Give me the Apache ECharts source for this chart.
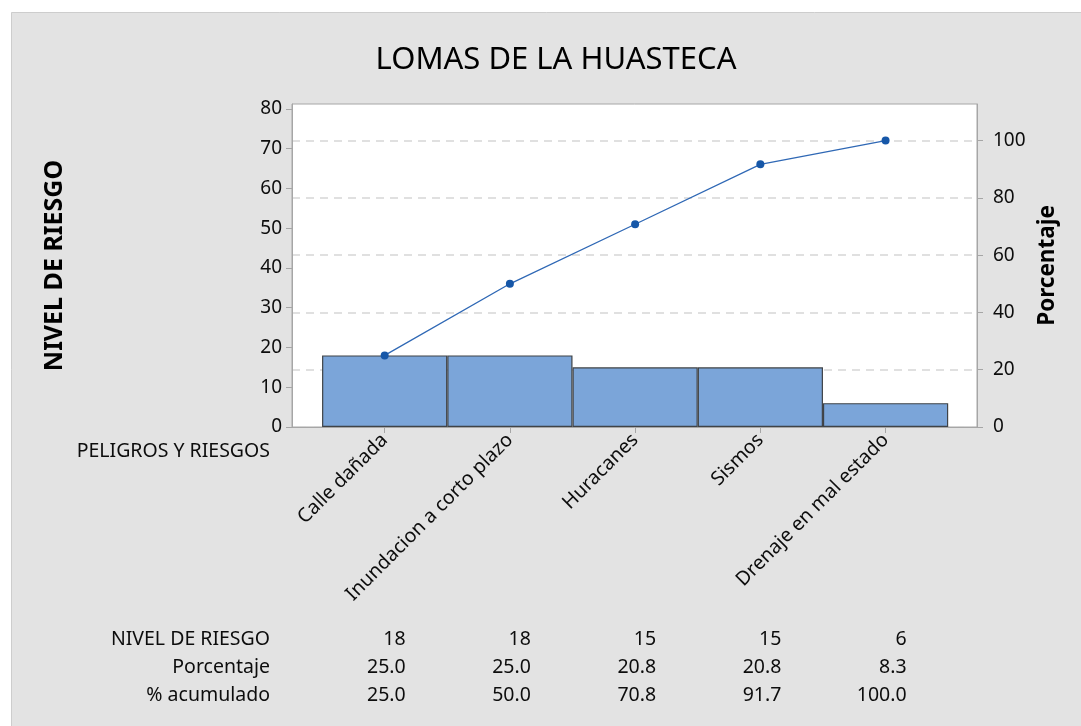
<!DOCTYPE html>
<html>
<head>
<meta charset="utf-8">
<script src="https://cdn.jsdelivr.net/npm/echarts@6/dist/echarts.min.js"></script>
<style>
  html, body { margin: 0; padding: 0; background: #ffffff; }
  #chart { width: 1081px; height: 726px; }
</style>
</head>
<body>
<div id="chart"></div>
<script>
// Pareto data: hazards ordered by risk level
const categories = ['Calle dañada', 'Inundacion a corto plazo', 'Huracanes', 'Sismos', 'Drenaje en mal estado'];
const riskLevels = [18, 18, 15, 15, 6];
const percentages = [25.0, 25.0, 20.8, 20.8, 8.3];
const cumulativePct = [25.0, 50.0, 70.8, 91.7, 100.0];
const leftTicks = [0, 10, 20, 30, 40, 50, 60, 70, 80];
const rightTicks = [0, 20, 40, 60, 80, 100];

const FONT = "'Noto Sans', 'DejaVu Sans', sans-serif";
const TEXT = '#0d0d0d';
const AXIS_GRAY = '#a6a6a6';

const total = riskLevels.reduce((a, b) => a + b, 0);
const leftMax = 81.2;                       // count axis top
const rightMax = leftMax / total * 100;     // percent axis aligned so 100% == total
const xMin = -0.74, xMax = 4.73;            // padding either side of the bars

const grid = { left: 292, top: 104, width: 685, height: 323 };
const barWidth = grid.width / (xMax - xMin);

const chart = echarts.init(document.getElementById('chart'), null, { renderer: 'canvas' });

const option = {
  backgroundColor: '#ffffff',
  animation: false,
  textStyle: { fontFamily: FONT },
  title: {
    text: 'LOMAS DE LA HUASTECA',
    left: 551, textAlign: 'center',
    top: 40,
    textStyle: { fontFamily: FONT, fontSize: 31, fontWeight: 'normal', color: '#000' }
  },
  grid: Object.assign({
    show: true, backgroundColor: '#ffffff', borderColor: AXIS_GRAY, borderWidth: 1, containLabel: false
  }, grid),
  xAxis: {
    type: 'value',
    min: xMin, max: xMax,
    axisLine: { show: true, onZero: false, lineStyle: { color: AXIS_GRAY, width: 1 } },
    axisTick: { show: true, customValues: categories.map((_, i) => i), length: 6, lineStyle: { color: AXIS_GRAY } },
    splitLine: { show: false },
    axisLabel: {
      customValues: categories.map((_, i) => i),
      formatter: v => categories[Math.round(v)],
      rotate: 45, fontSize: 19.5, color: TEXT, fontFamily: FONT, margin: 10
    }
  },
  yAxis: [
    {
      type: 'value', position: 'left',
      min: 0, max: leftMax,
      name: 'NIVEL DE RIESGO', nameLocation: 'middle', nameRotate: 90, nameGap: 225,
      nameTextStyle: { fontFamily: FONT, fontSize: 25, fontWeight: 'bold', color: '#000' },
      axisLine: { show: true, onZero: false, lineStyle: { color: AXIS_GRAY } },
      axisTick: { show: true, customValues: leftTicks, length: 6, lineStyle: { color: AXIS_GRAY } },
      axisLabel: { customValues: leftTicks, fontSize: 19, color: TEXT, fontFamily: FONT, margin: 10 },
      splitLine: { show: false }
    },
    {
      type: 'value', position: 'right',
      min: 0, max: rightMax,
      name: 'Porcentaje', nameLocation: 'middle', nameRotate: 90, nameGap: 52,
      nameTextStyle: { fontFamily: FONT, fontSize: 22.5, fontWeight: 'bold', color: '#000' },
      axisLine: { show: true, onZero: false, lineStyle: { color: AXIS_GRAY } },
      axisTick: { show: true, customValues: rightTicks, length: 6, lineStyle: { color: AXIS_GRAY } },
      axisLabel: { customValues: rightTicks, fontSize: 19, color: TEXT, fontFamily: FONT, margin: 16 },
      splitLine: { show: true, lineStyle: { color: '#d6d6d6', type: [8, 6], width: 1.5 } }
    }
  ],
  series: [
    {
      type: 'bar',
      yAxisIndex: 0,
      barWidth: barWidth,
      data: riskLevels.map((v, i) => [i, v]),
      itemStyle: { color: '#7ba5d9', borderColor: '#3f4347', borderWidth: 1.2 },
      z: 2
    },
    {
      type: 'line',
      yAxisIndex: 1,
      data: cumulativePct.map((v, i) => [i, v]),
      symbol: 'circle', symbolSize: 8,
      lineStyle: { color: '#2f68b5', width: 1.3 },
      itemStyle: { color: '#1657a8' },
      z: 3
    }
  ]
};
chart.setOption(option);

// Outer panel, bottom-axis caption and summary table drawn around the plot
const rowLabels = ['NIVEL DE RIESGO', 'Porcentaje', '% acumulado'];
const rowValues = [
  riskLevels.map(v => String(v)),
  percentages.map(v => v.toFixed(1)),
  cumulativePct.map(v => v.toFixed(1))
];
const rowY = [639, 667, 695];
const tableFont = { fontFamily: FONT, fontSize: 19.5, fill: TEXT };

const elements = [
  {
    type: 'rect', z: -10, silent: true,
    shape: { x: 11.5, y: 12.5, width: 1080, height: 720 },
    style: { fill: '#e3e3e3', stroke: '#cdcdcd', lineWidth: 1 }
  },
  {
    type: 'text', z: 5,
    style: Object.assign({ text: 'PELIGROS Y RIESGOS', x: 270, y: 451, align: 'right', verticalAlign: 'middle' }, tableFont)
  }
];
rowLabels.forEach((label, r) => {
  elements.push({
    type: 'text', z: 5,
    style: Object.assign({ text: label, x: 270, y: rowY[r], align: 'right', verticalAlign: 'middle' }, tableFont)
  });
  rowValues[r].forEach((txt, i) => {
    const px = chart.convertToPixel({ xAxisIndex: 0 }, i);
    elements.push({
      type: 'text', z: 5,
      style: Object.assign({ text: txt, x: px + 21, y: rowY[r], align: 'right', verticalAlign: 'middle' }, tableFont)
    });
  });
});
chart.setOption({ graphic: { elements: elements } });
</script>
</body>
</html>
